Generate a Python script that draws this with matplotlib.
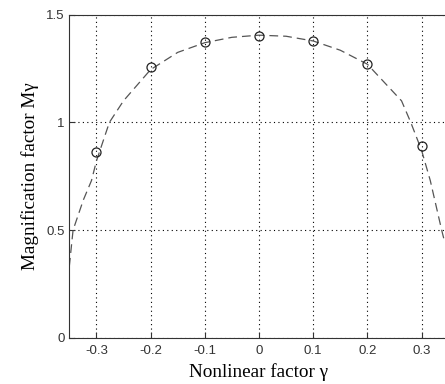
import matplotlib.pyplot as plt

# measured points
gamma_pts = [-0.3, -0.2, -0.1, 0.0, 0.1, 0.2, 0.3]
mag_pts = [0.861, 1.259, 1.372, 1.403, 1.379, 1.27, 0.892]

# dashed fitted curve
gamma_fit = [-0.35, -0.343, -0.324, -0.309, -0.30, -0.276, -0.25, -0.2, -0.15, -0.1,
             -0.05, 0.0, 0.05, 0.1, 0.15, 0.2, 0.263, 0.28, 0.30, 0.316, 0.337, 0.342]
mag_fit = [0.33, 0.50, 0.64, 0.73, 0.82, 1.00, 1.10, 1.245, 1.325, 1.37,
           1.395, 1.405, 1.40, 1.378, 1.335, 1.27, 1.10, 1.00, 0.87, 0.73, 0.50, 0.45]

xticks = [-0.3, -0.2, -0.1, 0.0, 0.1, 0.2, 0.3]
xtick_labels = ['-0.3', '-0.2', '-0.1', '0', '0.1', '0.2', '0.3']
yticks = [0, 0.5, 1, 1.5]
ytick_labels = ['0', '0.5', '1', '1.5']

fig = plt.figure(figsize=(4.45, 3.84), dpi=100)
ax = fig.add_axes([0.1557, 0.1206, 0.8526, 0.8411])

ax.plot(gamma_fit, mag_fit, color='#555555', linestyle=(0, (7, 4)), linewidth=0.9)
ax.plot(gamma_pts, mag_pts, linestyle='none', marker='o', markersize=6.5,
        markerfacecolor='none', markeredgecolor='#222222', markeredgewidth=0.9)

ax.set_xlim(-0.35, 0.35)
ax.set_ylim(0, 1.5)
ax.set_xticks(xticks)
ax.set_xticklabels(xtick_labels, fontfamily='Liberation Sans', fontsize=9.5)
ax.set_yticks(yticks)
ax.set_yticklabels(ytick_labels, fontfamily='Liberation Sans', fontsize=9.5)
ax.tick_params(axis='x', pad=5)
ax.tick_params(direction='in', length=4, width=0.8, color='#333333', labelcolor='#333333')
ax.grid(True, linestyle=(0, (1, 3)), color='black', linewidth=0.8)
for s in ax.spines.values():
    s.set_color('#333333')
    s.set_linewidth(0.8)

ax.set_xlabel('Nonlinear factor γ', fontfamily='Liberation Serif', fontsize=13.8, labelpad=4.5)
ax.set_ylabel('Magnification factor Mγ', fontfamily='Liberation Serif', fontsize=13.8, labelpad=5)

fig.savefig('out.png', dpi=100)
